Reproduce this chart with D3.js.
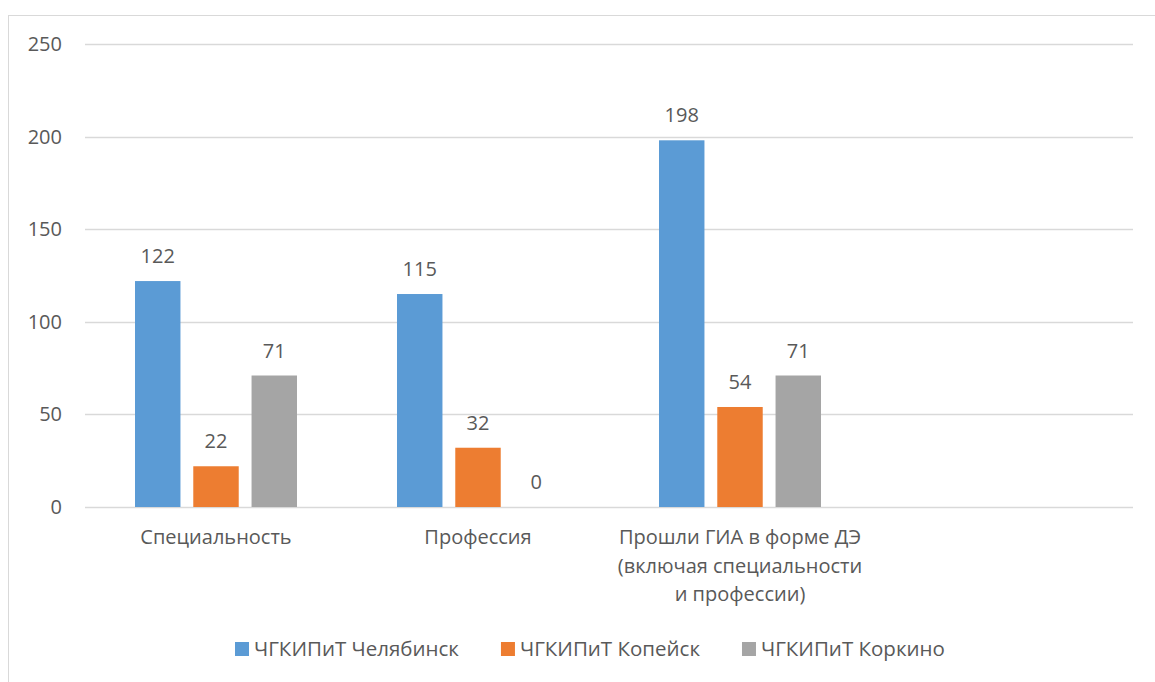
<!DOCTYPE html>
<html>
<head>
<meta charset="utf-8">
<script src="https://cdn.jsdelivr.net/npm/d3@7"></script>
<style>
  body { margin: 0; background: #fff; }
  text { font-family: "Open Sans", "Liberation Sans", sans-serif; fill: #595959; }
</style>
</head>
<body>
<div id="chart"></div>
<script>
const width = 1155
const height = 682

// data
const categories = [
  ["Специальность"],
  ["Профессия"],
  ["Прошли ГИА в форме ДЭ", "(включая специальности", "и профессии)"],
  [""]  // empty fourth slot on the axis
]
const seriesNames = ["ЧГКИПиТ Челябинск", "ЧГКИПиТ Копейск", "ЧГКИПиТ Коркино"]
const chelyabinsk = [122, 115, 198]
const kopeysk = [22, 32, 54]
const korkino = [71, 0, 71]
const yTicks = [0, 50, 100, 150, 200, 250]
const colors = ["#5b9bd5", "#ed7d31", "#a5a5a5"]

const seriesValues = [chelyabinsk, kopeysk, korkino]

const margin = { top: 44, left: 85, right: 22, bottom: 175 }
const groupWidth = 162

const svg = d3.select("#chart")
  .append("svg")
  .attr("width", width).attr("height", height)

// outer chart frame (only top & left edges show in the crop)
svg.append("rect")
  .attr("x", 8.5).attr("y", 15.5)
  .attr("width", 1200).attr("height", 700)
  .attr("fill", "none").attr("stroke", "#d9d9d9")

const x0 = d3.scaleBand()
  .domain(d3.range(categories.length))
  .range([margin.left, width - margin.right])

const x1 = d3.scaleBand()
  .domain(d3.range(seriesNames.length))
  .range([0, groupWidth])
  .paddingInner(0.22)

const y = d3.scaleLinear()
  .domain([0, 250])
  .range([height - margin.bottom, margin.top])

// gridlines
svg.append("g")
  .selectAll("line")
  .data(yTicks)
  .enter().append("line")
  .attr("x1", margin.left).attr("x2", width - margin.right)
  .attr("y1", d => Math.round(y(d)) + 0.5).attr("y2", d => Math.round(y(d)) + 0.5)
  .attr("stroke", "#d9d9d9").attr("stroke-width", 1.3)

// y tick labels
svg.append("g")
  .selectAll("text")
  .data(yTicks)
  .enter().append("text")
  .attr("x", 62).attr("y", d => y(d))
  .attr("dy", "0.35em")
  .attr("text-anchor", "end")
  .style("font-size", "20px")
  .text(d => d)

// bars
const bandOffset = (x0.bandwidth() - groupWidth) / 2

const groups = svg.append("g")
  .selectAll("g")
  .data(seriesValues)
  .enter().append("g")
  .attr("fill", (d, i) => colors[i])

groups.each(function (vals, s) {
  const g = d3.select(this)
  g.selectAll("rect")
    .data(vals)
    .enter().append("rect")
    .attr("x", (d, i) => x0(i) + bandOffset + x1(s))
    .attr("width", x1.bandwidth())
    .attr("y", d => y(d))
    .attr("height", d => y(0) - y(d))

  // value labels sit a little above each bar
  g.selectAll("text")
    .data(vals)
    .enter().append("text")
    .attr("x", (d, i) => x0(i) + bandOffset + x1(s) + x1.bandwidth() / 2)
    .attr("y", d => y(d) - 18)
    .attr("text-anchor", "middle")
    .style("font-size", "20px")
    .text(d => d)
})

// category labels
const catLabels = svg.append("g")
  .selectAll("text")
  .data(categories)
  .enter().append("text")
  .attr("x", (d, i) => x0(i) + x0.bandwidth() / 2)
  .attr("y", 544)
  .attr("text-anchor", "middle")
  .style("font-size", "20px")

catLabels.selectAll("tspan")
  .data(d => d)
  .enter().append("tspan")
  .attr("x", function () { return d3.select(this.parentNode).attr("x") })
  .attr("dy", (d, i) => i === 0 ? 0 : 28.5)
  .text(d => d)

// legend, items flow left to right
const legend = svg.append("g")
  .attr("transform", "translate(235, 642)")

let cursor = 0
seriesNames.forEach((name, i) => {
  const item = legend.append("g").attr("transform", `translate(${cursor}, 0)`)
  item.append("rect")
    .attr("width", 14).attr("height", 14)
    .attr("fill", colors[i])
  const t = item.append("text")
    .attr("x", 19).attr("y", 7)
    .attr("dy", "0.35em")
    .style("font-size", "20.5px")
    .text(name)
  cursor += 19 + t.node().getComputedTextLength() + 42
})
</script>
</body>
</html>
